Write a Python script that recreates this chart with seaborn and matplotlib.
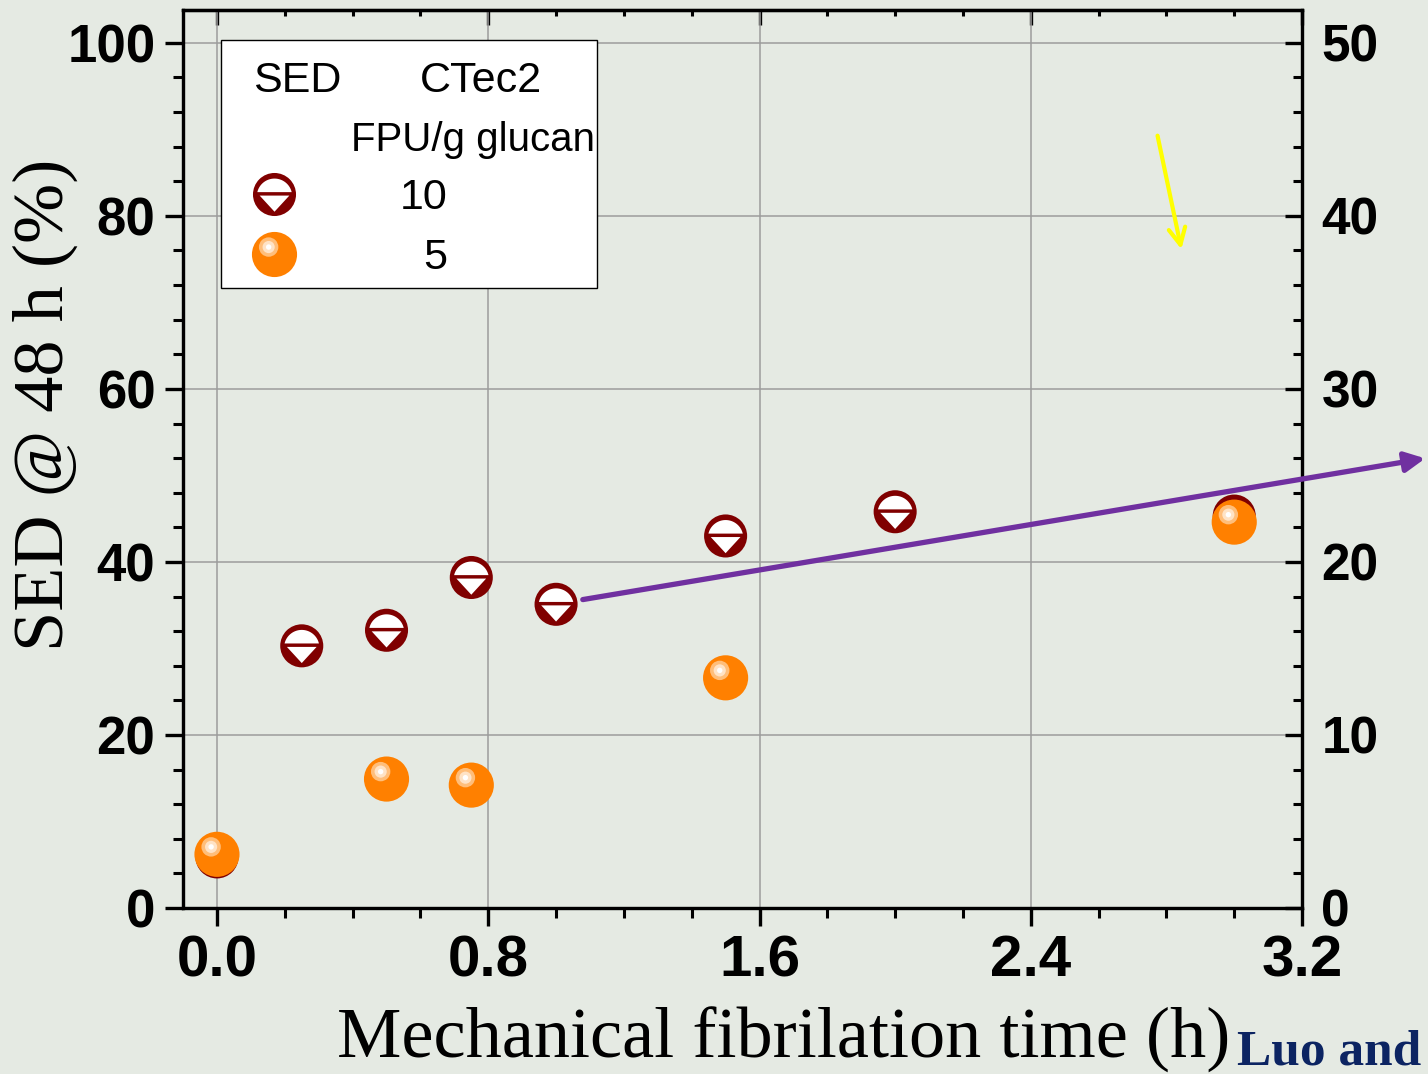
import numpy as np
import pandas as pd
import matplotlib
matplotlib.use("Agg")
import matplotlib.pyplot as plt
import seaborn as sns
from matplotlib.path import Path
from matplotlib.markers import MarkerStyle
from matplotlib.ticker import MultipleLocator, FormatStrFormatter
from matplotlib.legend_handler import HandlerTuple
from matplotlib.lines import Line2D
from matplotlib.patches import Rectangle, FancyArrowPatch
from matplotlib import font_manager

# ---------------- data ----------------
time_10 = [0.0, 0.25, 0.5, 0.75, 1.0, 1.5, 2.0, 3.0]
sed_10 = [5.9, 30.3, 32.1, 38.2, 35.1, 43.0, 45.8, 45.3]
time_5 = [0.0, 0.5, 0.75, 1.5, 3.0]
sed_5 = [6.2, 14.9, 14.2, 26.6, 44.6]
enzyme_labels = ["10", "  5"]
x_label = "Mechanical fibrilation time (h)"
y_label = "SED @ 48 h (%)"
legend_head_left = "SED"
legend_head_right = ["CTec2", "FPU/g glucan"]
credit = "Luo and"

df10 = pd.DataFrame({"time": time_10, "sed": sed_10})
df5 = pd.DataFrame({"time": time_5, "sed": sed_5})

# ---------------- style ----------------
names = {f.name for f in font_manager.fontManager.ttflist}
narrow = "Liberation Sans Narrow" if "Liberation Sans Narrow" in names else "Liberation Sans"
leg_size = 35 if narrow == "Liberation Sans Narrow" else 31
leg_size_wide = 35 if narrow == "Liberation Sans Narrow" else 29

plt.rcParams["font.family"] = ["Liberation Sans", "DejaVu Sans"]
plt.rcParams["font.weight"] = "bold"

BG = "#e5eae3"
DARKRED = "#800000"
ORANGE = "#ff8000"

MOVETO, LINETO, CLOSE = Path.MOVETO, Path.LINETO, Path.CLOSEPOLY


def bounded_marker(paths):
    verts = [[-1.0, -1.0], [1.0, 1.0]]
    codes = [MOVETO, MOVETO]
    for p in paths:
        verts += [list(v) for v in p.vertices]
        codes += list(p.codes)
    return MarkerStyle(Path(np.array(verts), np.array(codes, dtype=np.uint8)))


def cap_path(r=0.82, cy=-0.08, cut=0.11, n=80):
    t0 = np.arcsin((cut - cy) / r)
    th = np.linspace(t0, np.pi - t0, n)
    v = np.column_stack([r * np.cos(th), cy + r * np.sin(th)])
    v = np.vstack([v, v[:1]])
    c = [MOVETO] + [LINETO] * (n - 1) + [CLOSE]
    return Path(v, c)


tri = Path([[-0.69, -0.05], [0.69, -0.05], [0.0, -0.80], [-0.69, -0.05]],
           [MOVETO, LINETO, LINETO, CLOSE])
m_circle = bounded_marker([Path.circle((0, 0), 1.0)])
m_10_white = bounded_marker([cap_path(), tri])
m_hl1 = bounded_marker([Path.circle((-0.26, 0.33), 0.43)])
m_hl2 = bounded_marker([Path.circle((-0.26, 0.33), 0.27)])
m_hl3 = bounded_marker([Path.circle((-0.26, 0.33), 0.12)])

S10 = 31.0
S5 = 32.5

fig = plt.figure(figsize=(14.28, 10.74), dpi=100, facecolor=BG)
ax = fig.add_axes([0.1282, 0.1546, 0.7836, 0.8361])
ax.set_facecolor(BG)

layers_10 = [(m_circle, DARKRED, 3), (m_10_white, "white", 4)]
layers_5 = [(m_circle, ORANGE, 5), (m_hl1, "#ffbe7a", 6), (m_hl2, "#ffe3c6", 7), (m_hl3, "white", 8)]
for mk, col, z in layers_10:
    sns.scatterplot(data=df10, x="time", y="sed", ax=ax, marker=mk, color=col,
                    s=S10 ** 2, linewidth=0, edgecolor="none", zorder=z, legend=False)
for mk, col, z in layers_5:
    sns.scatterplot(data=df5, x="time", y="sed", ax=ax, marker=mk, color=col,
                    s=S5 ** 2, linewidth=0, edgecolor="none", zorder=z, legend=False)

ax.set_xlim(-0.1, 3.2)
ax.set_ylim(0, 103.8)
ax.xaxis.set_major_locator(MultipleLocator(0.8))
ax.xaxis.set_minor_locator(MultipleLocator(0.2))
ax.yaxis.set_major_locator(MultipleLocator(20))
ax.yaxis.set_minor_locator(MultipleLocator(4))
ax.xaxis.set_major_formatter(FormatStrFormatter("%.1f"))
ax.yaxis.set_major_formatter(FormatStrFormatter("%d"))
ax.grid(True, which="major", color="#9c9c9c", lw=1.1)
ax.set_axisbelow(True)

ax.tick_params(axis="x", which="major", direction="out", length=13, width=2.4, labelsize=42, pad=6)
ax.tick_params(axis="y", which="major", direction="out", length=13, width=2.4, labelsize=38, pad=7)
ax.tick_params(which="minor", direction="out", length=7, width=2.2)
ax.tick_params(right=False, top=False)
for sp in ax.spines.values():
    sp.set_linewidth(2.3)

secax = ax.secondary_xaxis("top")
secax.xaxis.set_major_locator(MultipleLocator(0.8))
secax.xaxis.set_minor_locator(MultipleLocator(0.2))
secax.tick_params(which="major", direction="in", length=11, width=2.4, labeltop=False)
secax.tick_params(which="minor", direction="in", length=4.5, width=2.2)
secax.spines["top"].set_linewidth(2.3)

ax2 = ax.twinx()
ax2.set_ylim(0, 51.9)
ax2.yaxis.set_major_locator(MultipleLocator(10))
ax2.yaxis.set_minor_locator(MultipleLocator(2))
ax2.yaxis.set_major_formatter(FormatStrFormatter("%d"))
ax2.tick_params(which="major", direction="in", length=12, width=2.4, labelsize=37, pad=14)
ax2.tick_params(which="minor", direction="in", length=6.5, width=2.2)
for sp in ax2.spines.values():
    sp.set_linewidth(2.3)

ax.set_xlabel(x_label, fontsize=52, family="Liberation Serif", weight="normal")
ax.xaxis.label.set_verticalalignment("baseline")
ax.xaxis.set_label_coords(0.537, -0.167)
ax.set_ylabel(y_label, fontsize=52, family="Liberation Serif", weight="normal")
ax.yaxis.label.set_verticalalignment("center")
ax.yaxis.set_label_coords(-0.123, 0.56)

# legend box
ax.add_patch(Rectangle((0.034, 0.6904), 0.336, 0.2762, transform=ax.transAxes,
                       facecolor="white", edgecolor="black", lw=1.0, zorder=9))
tk = dict(transform=ax.transAxes, family=narrow, weight="normal",
          ha="center", va="center", zorder=11)
ax.text(0.102, 0.921, legend_head_left, fontsize=leg_size, **tk)
ax.text(0.266, 0.921, legend_head_right[0], fontsize=leg_size, **tk)
ax.text(0.2595, 0.855, legend_head_right[1], fontsize=leg_size_wide, **tk)

h10 = tuple(Line2D([], [], linestyle="none", marker=mk, markersize=S10, markerfacecolor=col,
                   markeredgewidth=0) for mk, col, z in layers_10)
h5 = tuple(Line2D([], [], linestyle="none", marker=mk, markersize=S5, markerfacecolor=col,
                  markeredgewidth=0) for mk, col, z in layers_5)
leg = ax.legend(handles=[h10, h5], labels=enzyme_labels, handler_map={tuple: HandlerTuple(ndivide=1)},
                loc="upper left", bbox_to_anchor=(0.0554, 0.8125), frameon=False,
                prop={"family": narrow, "weight": "normal", "size": leg_size},
                handlelength=1.34, handletextpad=2.25, labelspacing=0.46,
                borderpad=0, borderaxespad=0)
leg.set_zorder(12)

# annotations
fig.add_artist(FancyArrowPatch((0.4062, 0.4413), (1.0, 0.5736), transform=fig.transFigure,
                               arrowstyle="-|>", mutation_scale=30, color="#7030a0", lw=3.8))
fig.add_artist(FancyArrowPatch((0.8102, 0.8762), (0.8277, 0.7654), transform=fig.transFigure,
                               arrowstyle="->", mutation_scale=30, color="#ffff00", lw=3))
fig.text(0.8663, 0.0084, credit, fontsize=37, weight="bold", family="Liberation Serif",
         color="#0c2462", va="baseline", ha="left")

fig.savefig("out.png", dpi=100, facecolor=BG)
